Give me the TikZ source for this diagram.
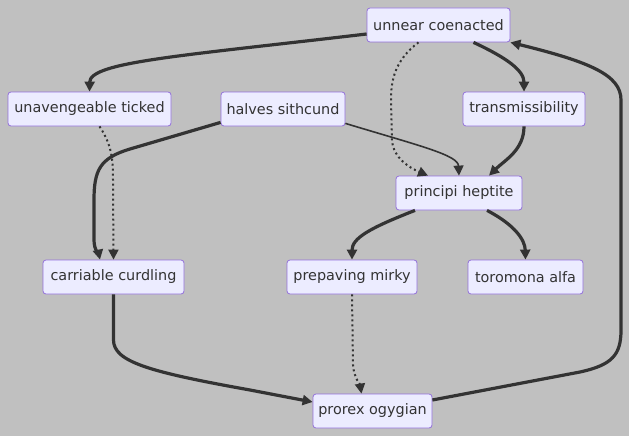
\documentclass[tikz,border=0pt]{standalone}
\usepackage{fontspec}
\setmainfont{DejaVu Sans}
\usetikzlibrary{arrows.meta}
\definecolor{bgc}{HTML}{C0C0C0}
\definecolor{nodefill}{HTML}{ECECFF}
\definecolor{nodeline}{HTML}{9370DB}
\definecolor{edgec}{HTML}{333333}
\begin{document}
\begin{tikzpicture}[x=1pt,y=-1pt,
  box/.style={draw=nodeline, fill=nodefill, rounded corners=3pt, minimum height=34pt,
    inner sep=0pt, font=\fontsize{14.4}{16}\selectfont, text=edgec, line width=0.8pt},
  link/.style={draw=edgec, line width=1.6pt, -{Triangle[length=10pt,width=10pt]}},
  tlink/.style={link, line width=3.2pt},
  dlink/.style={link, line width=2pt, dash pattern=on 2pt off 3pt}]
\fill[bgc] (0,0) rectangle (629,436);
\useasboundingbox (0,0) rectangle (629,436);

\node[box, minimum width=143pt] (u)  at (438.5,25)  {unnear coenacted};
\node[box, minimum width=163pt] (ua) at (89.5,109)  {unavengeable ticked};
\node[box, minimum width=124pt] (h)  at (283,109)   {halves sithcund};
\node[box, minimum width=122pt] (t)  at (524,109)   {transmissibility};
\node[box, minimum width=126pt] (p)  at (459,193)   {principi heptite};
\node[box, minimum width=141pt] (c)  at (113.5,277) {carriable curdling};
\node[box, minimum width=130pt] (pm) at (352,277)   {prepaving mirky};
\node[box, minimum width=115pt] (ta) at (525.5,277) {toromona alfa};
\node[box, minimum width=119pt] (pr) at (372.5,411) {prorex ogygian};

% unnear -> unavengeable
\draw[tlink] ([yshift=-9pt]u.west) .. controls (180,56) and (90,62) .. (ua.north);
% unnear -> transmissibility
\draw[tlink] ([xshift=35pt]u.south) .. controls (505,57) and (524,70) .. (t.north);
% unnear -> principi (dotted)
\draw[dlink] ([xshift=-20pt]u.south) .. controls (395,60) and (391,80) .. (391,100)
  -- (392,140) .. controls (393,158) and (410,168) .. ([xshift=-31pt]p.north);
% halves -> carriable
\draw[tlink] ([yshift=4pt]h.south west) -- (130,149) .. controls (100,158) and (94,170) .. (94,200)
  -- (94,240) .. controls (94,250) and (99,255) .. ([xshift=-13.5pt]c.north);
% unavengeable -> carriable (dotted)
\draw[dlink] ([xshift=10pt]ua.south) .. controls (112,145) and (113,160) .. (113,180) -- (c.north);
% halves -> principi
\draw[link] ([yshift=3pt]h.south east) .. controls (420,146) and (458,155) .. (p.north);
% transmissibility -> principi
\draw[tlink] (t.south) .. controls (524,150) and (505,160) .. ([xshift=30pt]p.north);
% principi -> prepaving
\draw[tlink] ([xshift=-44pt]p.south) .. controls (370,228) and (352,238) .. (pm.north);
% principi -> toromona
\draw[tlink] ([xshift=28pt]p.south) .. controls (515,225) and (525,240) .. (ta.north);
% prepaving -> prorex (dotted)
\draw[dlink] (pm.south) -- (353,365) .. controls (354,378) and (360,384) .. ([xshift=-11pt]pr.north);
% carriable -> prorex
\draw[tlink] (c.south) -- (113.5,340) .. controls (113.5,362) and (150,372) .. (250,390)
  -- ([yshift=9pt]pr.west);
% prorex -> unnear
\draw[tlink] ([yshift=11pt]pr.east) -- (580,372) .. controls (612,365) and (621,355) .. (621,330)
  -- (621,100) .. controls (621,75) and (590,62) .. (u.south east);
\end{tikzpicture}
\end{document}
